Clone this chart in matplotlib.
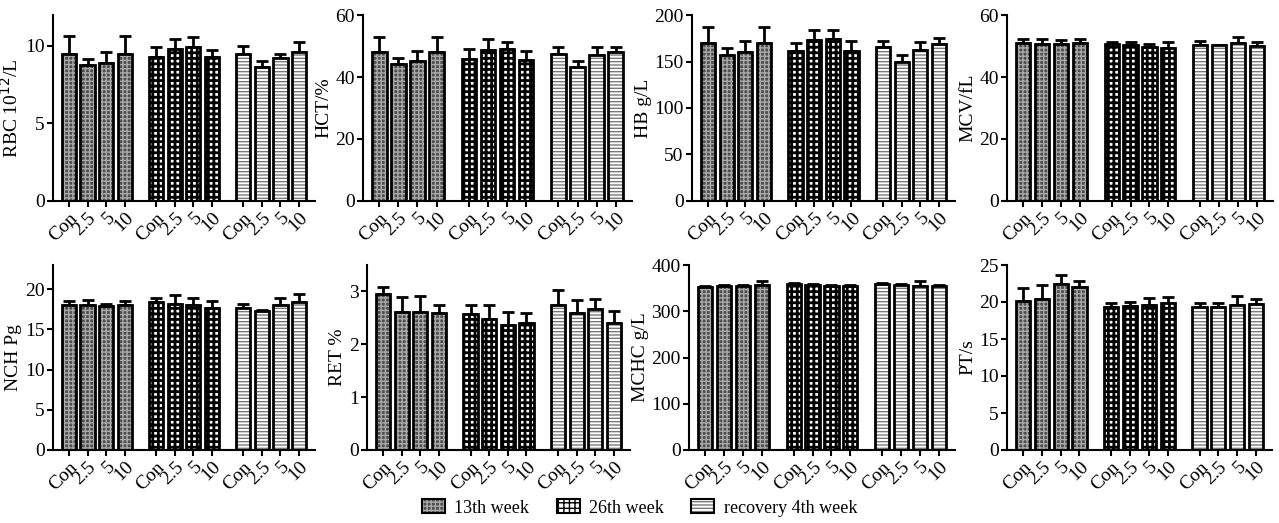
import numpy as np
import matplotlib
matplotlib.use('Agg')
import matplotlib.pyplot as plt
import matplotlib.patches as mpatches

plt.rcParams['font.family'] = ['Liberation Serif', 'DejaVu Serif']

# groups and doses
series = ['13th week', '26th week', 'recovery 4th week']
doses = ['Con', '2.5', '5', '10']

# means (row = series, col = dose) and upper error (SD)
rbc_mean = [[9.46, 8.78, 8.93, 9.46], [9.27, 9.81, 9.96, 9.27], [9.46, 8.63, 9.21, 9.64]]
rbc_sd = [[1.18, 0.36, 0.66, 1.18], [0.69, 0.64, 0.64, 0.47], [0.56, 0.41, 0.28, 0.62]]
hct_mean = [[48.0, 44.1, 45.0, 48.0], [45.8, 48.8, 49.0, 45.5], [47.5, 43.2, 47.1, 48.0]]
hct_sd = [[5.0, 2.0, 3.5, 5.0], [3.3, 3.5, 2.4, 3.0], [2.1, 2.1, 2.7, 1.6]]
hb_mean = [[169.5, 156.6, 160.2, 169.5], [161.3, 173.0, 173.8, 161.3], [165.6, 149.5, 162.4, 169.2]]
hb_sd = [[18.0, 7.4, 11.8, 18.0], [8.7, 11.0, 10.2, 11.1], [6.4, 7.1, 8.6, 5.7]]
mcv_mean = [[51.0, 50.8, 50.5, 51.0], [50.8, 50.2, 49.7, 49.5], [50.3, 50.3, 51.1, 50.0]]
mcv_sd = [[1.4, 1.4, 1.4, 1.4], [0.6, 1.1, 1.1, 1.8], [1.3, 0.1, 1.8, 1.4]]
nch_mean = [[18.07, 18.07, 17.95, 18.07], [18.4, 18.2, 18.07, 17.66], [17.66, 17.33, 18.07, 18.36]]
nch_sd = [[0.5, 0.6, 0.25, 0.5], [0.5, 1.1, 0.8, 0.9], [0.5, 0.05, 0.8, 1.0]]
ret_mean = [[2.96, 2.62, 2.61, 2.59], [2.57, 2.47, 2.36, 2.40], [2.75, 2.60, 2.66, 2.40]]
ret_sd = [[0.12, 0.28, 0.31, 0.16], [0.18, 0.28, 0.25, 0.20], [0.27, 0.23, 0.20, 0.23]]
mchc_mean = [[352, 355, 355, 357], [360, 357, 355, 355], [360, 357, 355, 355]]
mchc_sd = [[2, 2, 2, 9], [2, 2, 2, 2], [1, 1, 10, 2]]
pt_mean = [[20.07, 20.43, 22.5, 22.0], [19.3, 19.45, 19.6, 19.9], [19.3, 19.3, 19.6, 19.76]]
pt_sd = [[1.8, 1.9, 1.2, 0.9], [0.6, 0.6, 0.95, 0.75], [0.55, 0.55, 1.2, 0.65]]

panels = [
    ('RBC 10$^{12}$/L', rbc_mean, rbc_sd, 12, [0, 5, 10]),
    ('HCT/%', hct_mean, hct_sd, 60, [0, 20, 40, 60]),
    ('HB g/L', hb_mean, hb_sd, 200, [0, 50, 100, 150, 200]),
    ('MCV/fL', mcv_mean, mcv_sd, 60, [0, 20, 40, 60]),
    ('NCH Pg', nch_mean, nch_sd, 23, [0, 5, 10, 15, 20]),
    ('RET %', ret_mean, ret_sd, 3.5, [0, 1, 2, 3]),
    ('MCHC g/L', mchc_mean, mchc_sd, 400, [0, 100, 200, 300, 400]),
    ('PT/s', pt_mean, pt_sd, 25, [0, 5, 10, 15, 20, 25]),
]

# fill styles: (facecolor, hatch, hatch colour, hatch linewidth)
styles = [('#4e4e4e', '++++', '#a8a8a8', 1.0),
          ('white', '+++', 'black', 2.0),
          ('white', '-----', '#7a7a7a', 1.0)]

W, H = 1279, 523
# axes boxes in pixels: left, right, top, bottom
boxes = [(53, 315, 15, 201), (363, 632, 15, 201), (692, 955, 15, 201), (1007, 1273, 15, 201),
         (53, 315, 265, 450), (367, 630, 265, 450), (689, 955, 265, 450), (1007, 1272, 265, 450)]

fig = plt.figure(figsize=(W / 100, H / 100), dpi=100)

step = 4.7
xpos = np.array([[g * step + i for i in range(4)] for g in range(3)])

for (label, mean, sd, ytop, yt), (l, r, t, b) in zip(panels, boxes):
    ax = fig.add_axes([l / W, 1 - b / H, (r - l) / W, (b - t) / H])
    mean = np.array(mean, dtype=float)
    sd = np.array(sd, dtype=float)
    for g in range(3):
        fc, hatch, hc, hlw = styles[g]
        plt.rcParams['hatch.linewidth'] = hlw
        ax.bar(xpos[g], mean[g], width=0.76, color=fc, hatch=hatch,
               edgecolor=hc, linewidth=0, zorder=2)
        ax.bar(xpos[g], mean[g], width=0.76, fill=False, edgecolor='black',
               linewidth=2, zorder=3)
        ax.errorbar(xpos[g], mean[g], yerr=[np.zeros(4), sd[g]], fmt='none',
                    ecolor='black', elinewidth=2, capsize=4, capthick=2, zorder=1)
    ax.set_xlim(-0.86, 2 * step + 3 + 0.86)
    ax.set_ylim(0, ytop)
    ax.set_yticks(yt)
    ax.set_xticks(xpos.ravel())
    ax.set_xticklabels(doses * 3, rotation=45, ha='right', rotation_mode='anchor')
    ax.set_ylabel(label, fontsize=14, labelpad=2)
    ax.tick_params(labelsize=14, width=1.5, length=4, pad=2)
    for s in ['top', 'right']:
        ax.spines[s].set_visible(False)
    for s in ['left', 'bottom']:
        ax.spines[s].set_linewidth(1.5)

handles = []
for fc, hatch, hc, hlw in styles:
    plt.rcParams['hatch.linewidth'] = hlw
    p1 = mpatches.Patch(facecolor=fc, hatch=hatch, edgecolor=hc, linewidth=0)
    p2 = mpatches.Patch(fill=False, edgecolor='black', linewidth=1.5)
    handles.append((p1, p2))
fig.legend(handles, series, loc='center', bbox_to_anchor=(0.5, 1 - 508 / H), ncol=3,
           frameon=False, fontsize=13, handlelength=1.3, handleheight=0.8,
           columnspacing=1.5, handletextpad=0.5)

fig.savefig('out.png', dpi=100)
